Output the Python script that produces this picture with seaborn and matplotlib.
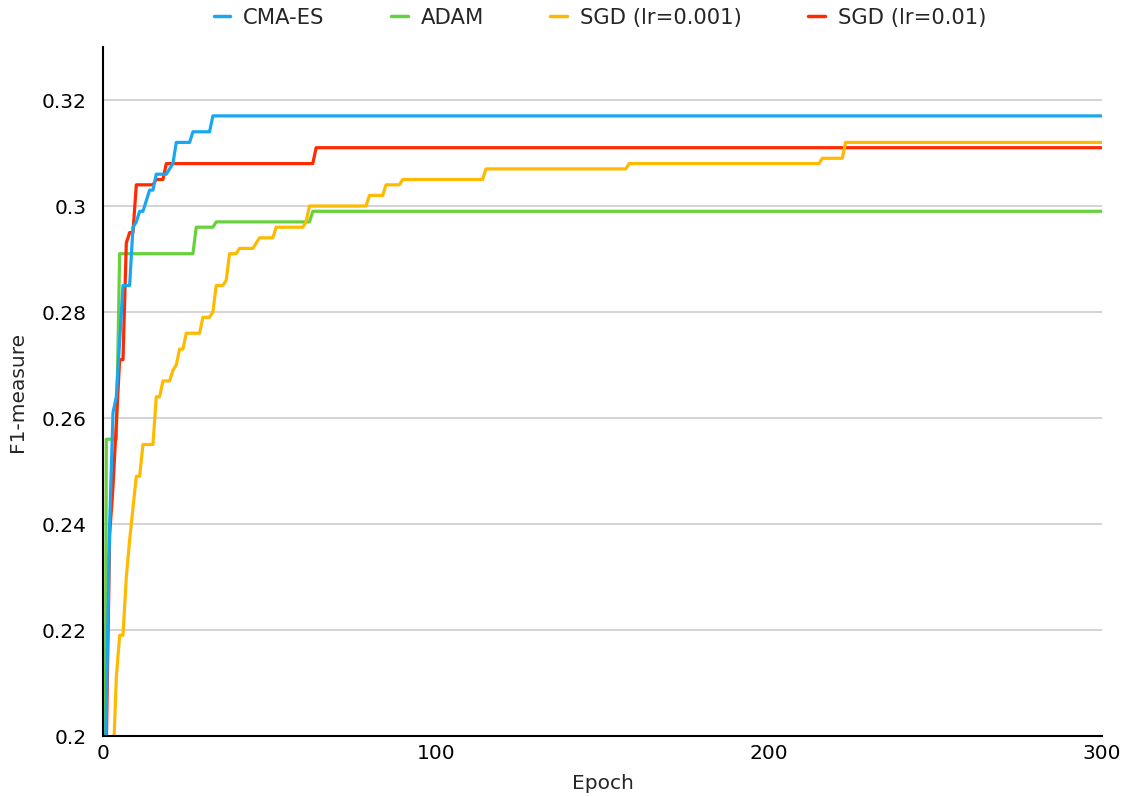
import matplotlib
matplotlib.use("Agg")
import matplotlib.pyplot as plt
import seaborn as sns
import pandas as pd
from matplotlib.lines import Line2D
from matplotlib.ticker import FuncFormatter

# ---- data (breakpoints: epoch, F1) ----
cma_epochs = [0, 1, 2, 3, 4, 6, 8, 9, 10, 11, 12, 14, 15, 16, 19, 20, 21, 22, 26, 27, 32, 33, 300]
cma_f1 = [0.17, 0.205, 0.240, 0.261, 0.264, 0.285, 0.285, 0.296, 0.297, 0.299, 0.299, 0.303, 0.303,
          0.306, 0.306, 0.307, 0.308, 0.312, 0.312, 0.314, 0.314, 0.317, 0.317]

adam_epochs = [0, 1, 4, 5, 27, 28, 33, 34, 62, 63, 300]
adam_f1 = [0.07, 0.256, 0.256, 0.291, 0.291, 0.296, 0.296, 0.297, 0.297, 0.299, 0.299]

sgd3_epochs = [0, 3, 4, 5, 6, 7, 8, 9, 10, 11, 12, 15, 16, 17, 18, 20, 21, 22, 23, 24, 25, 29,
               30, 32, 33, 34, 36, 37, 38, 40, 41, 45, 47, 51, 52, 60, 61, 62, 79, 80, 84, 85,
               89, 90, 114, 115, 157, 158, 215, 216, 222, 223, 300]
sgd3_f1 = [0.12, 0.194, 0.211, 0.219, 0.219, 0.230, 0.237, 0.243, 0.249, 0.249, 0.255, 0.255,
           0.264, 0.264, 0.267, 0.267, 0.269, 0.270, 0.273, 0.273, 0.276, 0.276, 0.279, 0.279,
           0.280, 0.285, 0.285, 0.286, 0.291, 0.291, 0.292, 0.292, 0.294, 0.294, 0.296, 0.296,
           0.297, 0.300, 0.300, 0.302, 0.302, 0.304, 0.304, 0.305, 0.305, 0.307, 0.307, 0.308,
           0.308, 0.309, 0.309, 0.312, 0.312]

sgd2_epochs = [0, 1, 2, 3, 5, 6, 7, 8, 9, 10, 15, 16, 18, 19, 63, 64, 300]
sgd2_f1 = [0.165, 0.198, 0.238, 0.247, 0.271, 0.271, 0.293, 0.295, 0.295, 0.304, 0.304, 0.305,
           0.305, 0.308, 0.308, 0.311, 0.311]

labels = ["CMA-ES", "ADAM", "SGD (lr=0.001)", "SGD (lr=0.01)"]
colors = ["#19A7F2", "#66D13C", "#FFBA00", "#FF2A00"]

x_ticks = [0, 100, 200, 300]
y_ticks = [0.20, 0.22, 0.24, 0.26, 0.28, 0.30, 0.32]

series = {
    "CMA-ES": (cma_epochs, cma_f1),
    "ADAM": (adam_epochs, adam_f1),
    "SGD (lr=0.001)": (sgd3_epochs, sgd3_f1),
    "SGD (lr=0.01)": (sgd2_epochs, sgd2_f1),
}

sns.set_theme(style="white")
plt.rcParams['font.family'] = ['DejaVu Sans']

fig = plt.figure(figsize=(11.31, 7.96), dpi=100)
ax = fig.add_axes([103 / 1131, 1 - 736 / 796, (1102 - 103) / 1131, (736 - 47) / 796])

draw_order = ["ADAM", "SGD (lr=0.01)", "SGD (lr=0.001)", "CMA-ES"]
cmap = dict(zip(labels, colors))
for i, name in enumerate(draw_order):
    ep, f1 = series[name]
    df = pd.DataFrame({"epoch": ep, "f1": f1})
    sns.lineplot(data=df, x="epoch", y="f1", ax=ax, color=cmap[name], linewidth=2.3,
                 zorder=3 + i, estimator=None, sort=False)

ax.set_xlim(0, 300)
ax.set_ylim(0.2, 0.33)
ax.set_xticks(x_ticks)
ax.set_yticks(y_ticks)
ax.yaxis.set_major_formatter(FuncFormatter(lambda v, p: f"{v:g}"))
ax.grid(axis="y", color="#C8C8C8", linewidth=1.1)
ax.grid(axis="x", visible=False)
for s in ["top", "right"]:
    ax.spines[s].set_visible(False)
for s in ["left", "bottom"]:
    ax.spines[s].set_color("black")
    ax.spines[s].set_linewidth(1.5)
    ax.spines[s].set_zorder(10)
ax.tick_params(axis="both", length=0, labelsize=14.5, colors="black")
ax.tick_params(axis="y", pad=12)
ax.tick_params(axis="x", pad=6)
ax.set_xlabel("Epoch", fontsize=14.5, labelpad=8)
ax.set_ylabel("F1-measure", fontsize=14.5, labelpad=10)

handles = [Line2D([0], [0], color=c, linewidth=2.5) for c in colors]
fig.legend(handles, labels, loc="center", bbox_to_anchor=(0.5305, 0.978), ncol=4, frameon=False,
           fontsize=15.2, handlelength=0.8, handletextpad=0.6, columnspacing=3.15)

fig.savefig("out.png", dpi=100)
